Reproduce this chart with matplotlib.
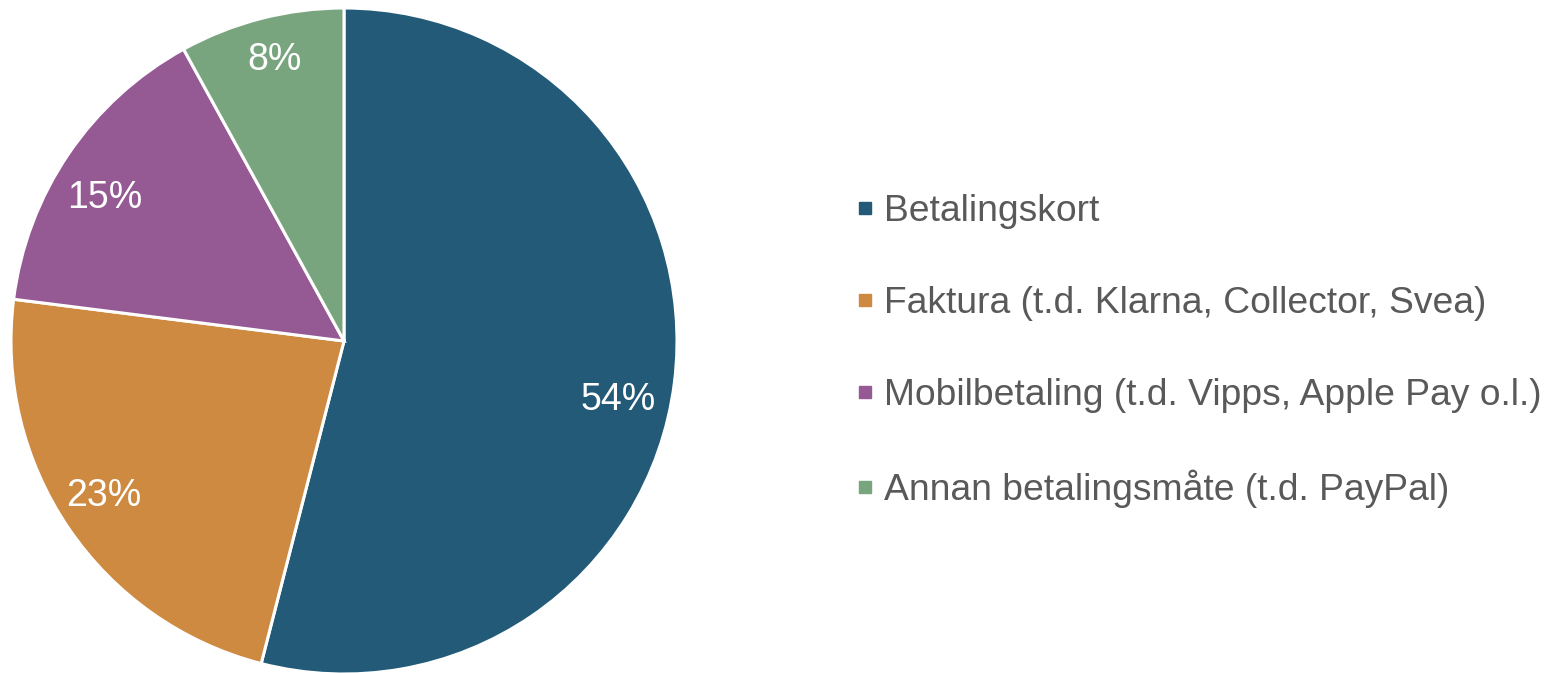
import matplotlib.pyplot as plt
from matplotlib.lines import Line2D

plt.rcParams['font.family'] = ['Liberation Sans', 'DejaVu Sans']

labels = ["Betalingskort",
          "Faktura (t.d. Klarna, Collector, Svea)",
          "Mobilbetaling (t.d. Vipps, Apple Pay o.l.)",
          "Annan betalingsmåte (t.d. PayPal)"]
shares = [54, 23, 15, 8]
colors = ["#225a78", "#cd8a40", "#955a94", "#78a57e"]

fig = plt.figure(figsize=(15.49, 6.73), dpi=100)
ax = fig.add_axes([11 / 1549, -1 / 673, 666 / 1549, 666 / 673])

wedges, texts, autotexts = ax.pie(
    shares, colors=colors, startangle=90, counterclock=False,
    autopct="%d%%", pctdistance=0.84,
    wedgeprops=dict(edgecolor="white", linewidth=2.2),
    textprops=dict(color="white", fontsize=27))
ax.set_aspect("equal")
ax.set_xlim(-1, 1)
ax.set_ylim(-1, 1)

# nudge the labels to where Excel put them
nudges = [(-0.009, -0.072), (-0.027, 0.006), (-0.024, -0.042), (0.0, 0.03)]
for t, (dx, dy) in zip(autotexts, nudges):
    x, y = t.get_position()
    t.set_position((x + dx, y + dy))

handles = [Line2D([], [], marker="s", linestyle="none", markersize=9,
                  markerfacecolor=c, markeredgecolor=c) for c in colors]
leg = fig.legend(handles, labels, loc="center left",
                 bbox_to_anchor=(841 / 1549, 0.4785), frameon=False,
                 fontsize=26.8, labelcolor="#595959", handlelength=0.5,
                 handletextpad=0.25, labelspacing=1.53, borderaxespad=0)

fig.savefig("out.png", dpi=100)
